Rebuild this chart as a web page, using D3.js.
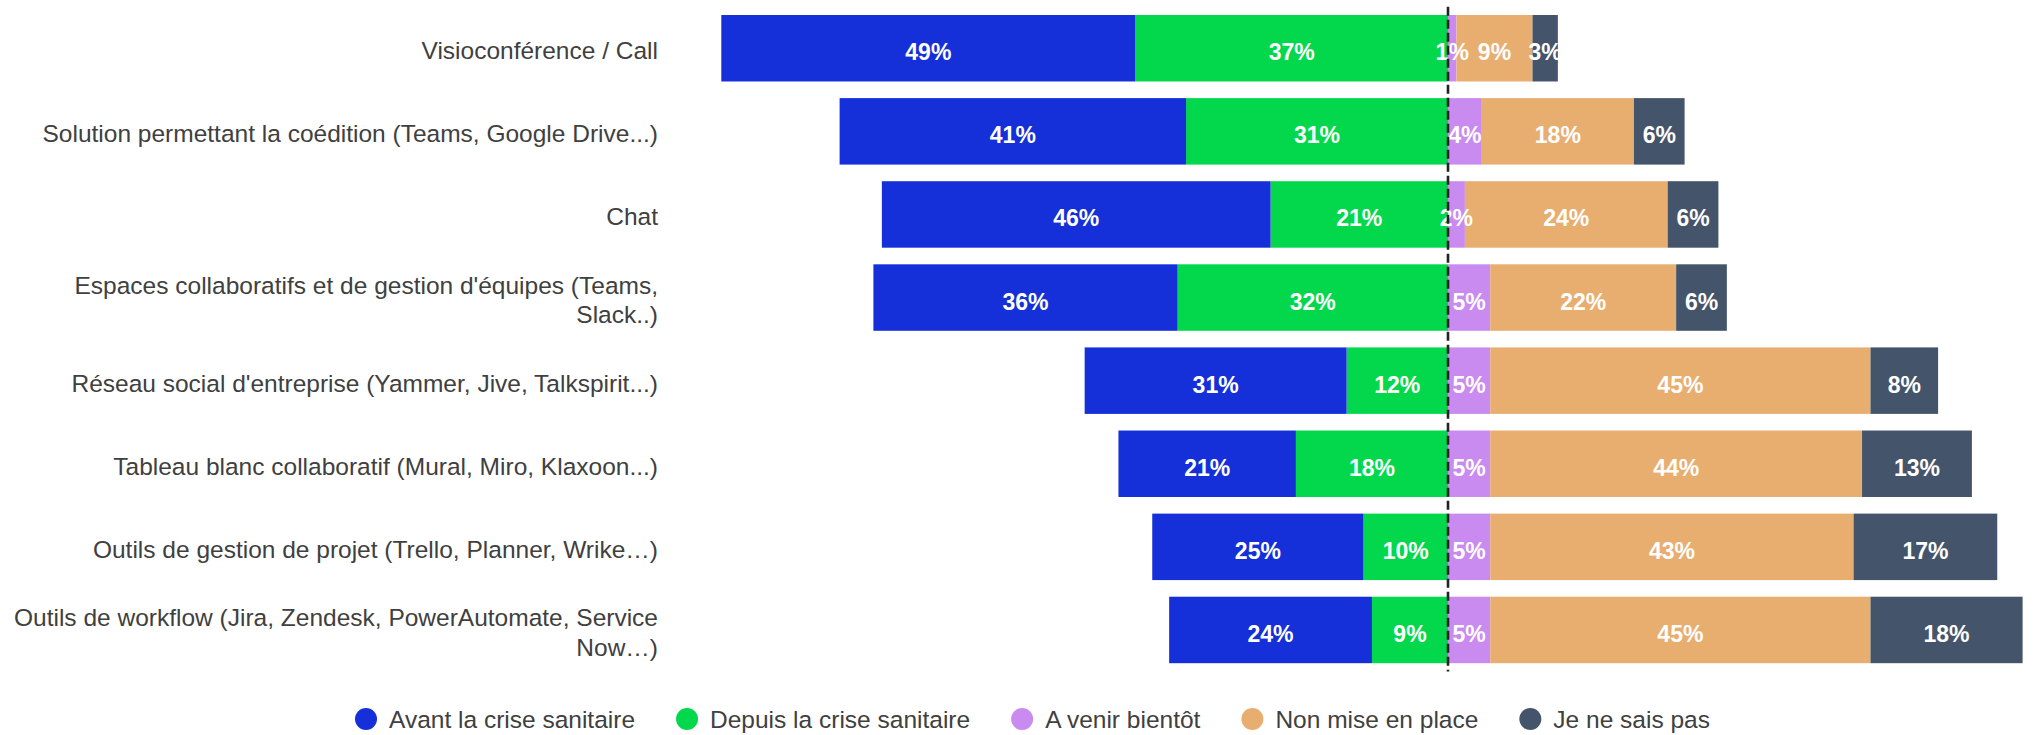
<!DOCTYPE html>
<html lang="fr">
<head>
<meta charset="utf-8">
<title>Outils collaboratifs</title>
<script src="https://cdn.jsdelivr.net/npm/d3@7"></script>
<style>
  html, body { margin: 0; padding: 0; background: #ffffff; }
  svg { display: block; }
  text { font-family: "Liberation Sans", Arial, Helvetica, sans-serif; }
</style>
</head>
<body>
<svg id="chart" width="2035" height="735"></svg>
<script>
// Outils cités, du haut vers le bas
const categories = [
  "Visioconférence / Call",
  "Solution permettant la coédition (Teams, Google Drive...)",
  "Chat",
  "Espaces collaboratifs et de gestion d'équipes (Teams, Slack..)",
  "Réseau social d'entreprise (Yammer, Jive, Talkspirit...)",
  "Tableau blanc collaboratif (Mural, Miro, Klaxoon...)",
  "Outils de gestion de projet (Trello, Planner, Wrike…)",
  "Outils de workflow (Jira, Zendesk, PowerAutomate, Service Now…)"
];

const seriesNames = [
  "Avant la crise sanitaire",
  "Depuis la crise sanitaire",
  "A venir bientôt",
  "Non mise en place",
  "Je ne sais pas"
];

// Pourcentages par outil
const avantCrise  = [49, 41, 46, 36, 31, 21, 25, 24];
const depuisCrise = [37, 31, 21, 32, 12, 18, 10, 9];
const aVenir      = [1, 4, 2, 5, 5, 5, 5, 5];
const nonMise     = [9, 18, 24, 22, 45, 44, 43, 45];
const neSaisPas   = [3, 6, 6, 6, 8, 13, 17, 18];

const seriesColors = ["#1530d8", "#03d84c", "#c98bef", "#e8ae70", "#44546a"];

const svg = d3.select("#chart");

// Échelles : le zéro sépare les outils en place (gauche) des autres (droite)
const x = d3.scaleLinear().domain([-100, 100]).range([1448 - 845, 1448 + 845]);
const y = d3.scaleBand()
  .domain(categories)
  .range([6.7, 671.5])
  .paddingInner(0.2)
  .paddingOuter(0.1);

// Segments empilés de part et d'autre du zéro
const segments = [];
categories.forEach((cat, i) => {
  const right = [aVenir[i], nonMise[i], neSaisPas[i]];
  // gauche : "Depuis" contre le zéro, "Avant" à l'extérieur
  segments.push({ cat, s: 1, x0: -depuisCrise[i], x1: 0, v: depuisCrise[i] });
  segments.push({ cat, s: 0, x0: -(avantCrise[i] + depuisCrise[i]), x1: -depuisCrise[i], v: avantCrise[i] });
  let acc = 0;
  right.forEach((v, k) => {
    segments.push({ cat, s: k + 2, x0: acc, x1: acc + v, v });
    acc += v;
  });
});

const bars = svg.append("g").attr("class", "bars");
bars.selectAll("rect")
  .data(segments)
  .join("rect")
  .attr("x", d => x(d.x0))
  .attr("y", d => y(d.cat))
  .attr("width", d => x(d.x1) - x(d.x0))
  .attr("height", y.bandwidth())
  .attr("fill", d => seriesColors[d.s]);

// Étiquettes de valeur
bars.selectAll("text")
  .data(segments)
  .join("text")
  .attr("x", d => (x(d.x0) + x(d.x1)) / 2)
  .attr("y", d => y(d.cat) + y.bandwidth() / 2 + 12)
  .attr("text-anchor", "middle")
  .attr("font-size", 23)
  .attr("font-weight", "bold")
  .attr("fill", "#ffffff")
  .text(d => d.v + "%");

// Ligne de référence en pointillés au zéro
svg.append("line")
  .attr("x1", x(0)).attr("x2", x(0))
  .attr("y1", y.range()[0]).attr("y2", y.range()[1])
  .attr("stroke", "#222222")
  .attr("stroke-width", 2.6)
  .attr("stroke-dasharray", "9,4");

// Libellés des outils, renvoyés à la ligne au-delà d'une largeur maximale
const labelRight = 658;
const maxLabelWidth = 660;
const lineHeight = 29.5;
const labels = svg.append("g").attr("class", "labels");

categories.forEach(cat => {
  const t = labels.append("text")
    .attr("text-anchor", "end")
    .attr("font-size", 24.5)
    .attr("fill", "#404040");
  const words = cat.split(" ");
  const lines = [];
  let current = [];
  const probe = t.append("tspan");
  words.forEach(w => {
    const trial = current.concat([w]).join(" ");
    probe.text(trial);
    if (probe.node().getComputedTextLength() > maxLabelWidth && current.length) {
      lines.push(current.join(" "));
      current = [w];
    } else {
      current.push(w);
    }
  });
  lines.push(current.join(" "));
  probe.remove();
  const cy = y(cat) + y.bandwidth() / 2;
  const firstBaseline = cy + 11 - (lines.length - 1) * lineHeight / 2;
  lines.forEach((ln, k) => {
    t.append("tspan")
      .attr("x", labelRight)
      .attr("y", firstBaseline + k * lineHeight)
      .text(ln);
  });
});

// Légende
const legend = svg.append("g").attr("class", "legend");
let cx = 366;
const legendY = 719;
seriesNames.forEach((name, i) => {
  legend.append("circle")
    .attr("cx", cx).attr("cy", legendY).attr("r", 11)
    .attr("fill", seriesColors[i]);
  const t = legend.append("text")
    .attr("x", cx + 23)
    .attr("y", legendY + 8.5)
    .attr("font-size", 24.5)
    .attr("fill", "#404040")
    .text(name);
  cx = cx + 23 + t.node().getComputedTextLength() + 52;
});
</script>
</body>
</html>
